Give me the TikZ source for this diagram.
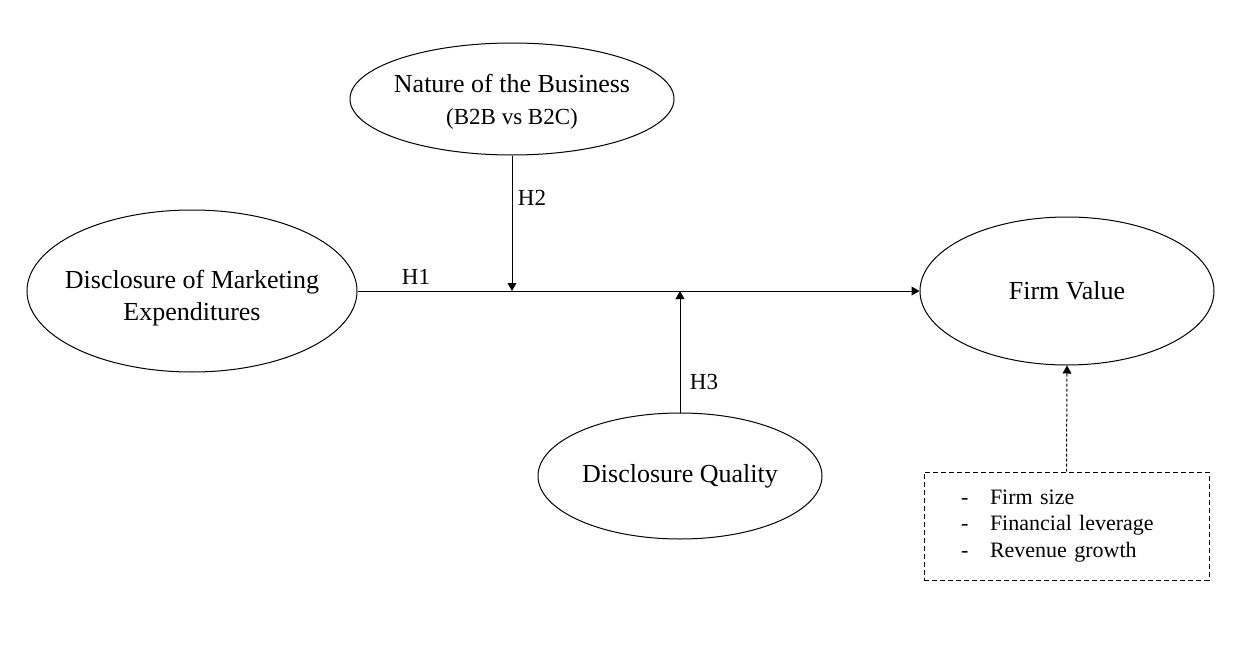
\documentclass[tikz,border=0pt]{standalone}
\usepackage{fontspec}
\setmainfont{Liberation Serif}
\usetikzlibrary{arrows.meta, shapes.geometric}

\begin{document}
\begin{tikzpicture}[x=0.5pt, y=-0.5pt,
    construct/.style={ellipse, draw, line width=0.5pt, inner sep=-12pt, align=center, font=\fontsize{13}{16}\selectfont},
    hlabel/.style={font=\fontsize{11.5}{13}\selectfont},
    path arrow/.style={-{Triangle[length=4pt,width=4.4pt]}, line width=0.5pt},
    ctrl arrow/.style={path arrow, dash pattern=on 1.5pt off 1pt},
    ctrlbox/.style={draw, line width=0.5pt, dash pattern=on 2.5pt off 1.5pt, align=left, font=\fontsize{11}{13.25}\selectfont}]
        \useasboundingbox (0,0) rectangle (1260,648);
        % Constructs
        \node[construct, minimum width=162pt, minimum height=56pt] (nature) at (512,99) {\rule{0pt}{12pt}Nature of the Business\\{\fontsize{11.5}{15}\selectfont (B2B vs B2C)}};
        \node[construct, minimum width=165pt, minimum height=81pt] (mkt) at (192,291) {\rule{0pt}{16pt}Disclosure of Marketing\\Expenditures};
        \node[construct, minimum width=147pt, minimum height=74pt] (firm) at (1067,291) {Firm Value};
        \node[construct, minimum width=142pt, minimum height=63pt] (quality) at (680,476) {Disclosure Quality};
        % Control variables
        \node[ctrlbox, text width=105.5pt, inner xsep=18.5pt, minimum height=54pt] (controls) at (1066.5,526)
            {\makebox[14.5pt][l]{-}Firm size\\\makebox[14.5pt][l]{-}Financial leverage\\\makebox[14.5pt][l]{-}Revenue growth};
        % Junctions on the main path
        \coordinate (j2) at (nature.south |- mkt.east);
        \coordinate (j3) at (quality.north |- mkt.east);
        % Paths
        \draw[path arrow] (mkt.east) -- (firm.west);
        \draw[path arrow] (nature.south) -- (j2);
        \draw[path arrow] (quality.north) -- (j3);
        \draw[ctrl arrow] (controls.north) -- (firm.south);
        % Hypotheses
        \node[hlabel] (h1) at (416,277) {H1};
        \node[hlabel] (h2) at (532,198) {H2};
        \node[hlabel] (h3) at (704,382) {H3};
    \end{tikzpicture}
\end{document}
